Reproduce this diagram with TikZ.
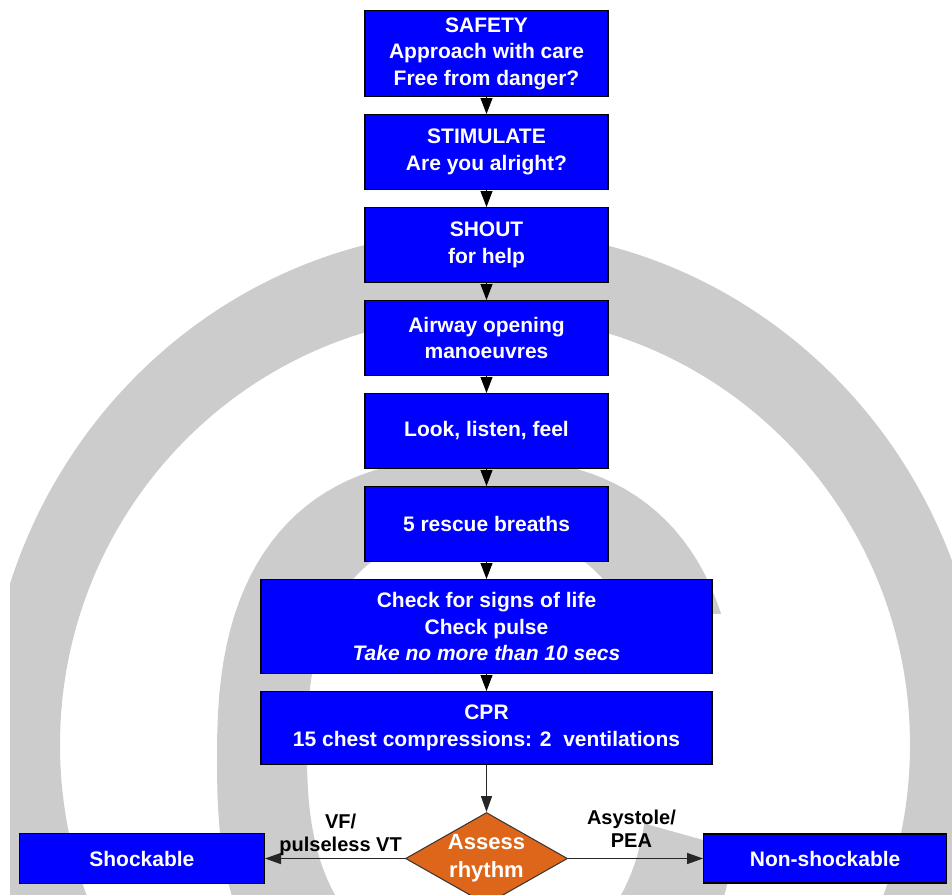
\documentclass[tikz,border=0pt]{standalone}
\usepackage{fontspec}
\setmainfont{Liberation Sans}
\usetikzlibrary{shapes.geometric,arrows.meta,chains,positioning}

\definecolor{boxblue}{RGB}{0,0,255}
\definecolor{rhythmorange}{RGB}{221,102,26}
\definecolor{ringgray}{RGB}{204,204,204}

\begin{document}
\begin{tikzpicture}[%
    x=1pt, y=-1pt,              % one unit per pixel, counted from the top
    >={Triangle[width=12pt,length=16pt]}, % Fat short arrows between boxes
    start chain=going below,    % General flow is top-to-bottom
    node distance=17pt,         % Gap between the boxes
    every join/.style={norm},   % Default linetype for connecting boxes
    ]
% -------------------------------------------------
% A few box styles
\tikzset{
  base/.style={draw=black, line width=1.2pt, fill=boxblue, text=white, align=center,
    inner sep=2pt, font=\fontsize{21pt}{26.5pt}\selectfont\bfseries},
  box/.style={base, on chain, minimum width=243pt, minimum height=74.8pt},
  widebox/.style={box, minimum width=451pt},
  outcome/.style={base, minimum width=245pt, minimum height=50pt},
  decision/.style={diamond, draw=black!80, line width=1pt, fill=rhythmorange,
    text=white, align=center, aspect=1.76, inner sep=0pt,
    minimum width=162pt, minimum height=92pt,
    font=\fontsize{22pt}{28pt}\selectfont\bfseries},
  % Connector line styles
  norm/.style={->, line width=1pt, black},
  side/.style={-{Triangle[width=11pt,length=16pt]}, line width=1.5pt, black!85},
  lbl/.style={above, inner sep=2pt, align=center, text=black,
    font=\fontsize{20pt}{23pt}\selectfont\bfseries}
}
\useasboundingbox (0,0) rectangle (952,894);
% -------------------------------------------------
% Grey rings in the background
\begin{scope}
  \clip (10,0) rectangle (952,894);
  \fill[ringgray, even odd rule]
    (485,745) ellipse [x radius=500pt, y radius=515pt]
    (485,745) ellipse [x radius=425pt, y radius=430pt];
  \fill[ringgray, even odd rule]
    plot[domain=0.5:360.5, samples=121]
      ({478+261*(cos(\x)<0 ? -1 : 1)*abs(cos(\x))^0.8},
       {760-302*(sin(\x)<0 ? -1 : 1)*abs(sin(\x))^0.8}) -- cycle
    plot[domain=0.5:360.5, samples=121]
      ({478+171*(cos(\x)<0 ? -1 : 1)*abs(cos(\x))^0.8},
       {750-218*(sin(\x)<0 ? -1 : 1)*abs(sin(\x))^0.8}) -- cycle;
  \fill[white] (713,614) -- (800,614) -- (800,867) -- (600,811)
    -- (600,700) -- cycle;
\end{scope}
% -------------------------------------------------
% Start by placing the nodes
\node [box, minimum height=85.8pt, at={(486.5,53.5)}] (safety)
  {SAFETY\\Approach with care\\Free from danger?};
% Use join to connect a node to the previous one
\node [box, join] (stimulate) {STIMULATE\\Are you alright?};
\node [box, join] (shout) {SHOUT\\for help};
\node [box, join] (airway) {Airway opening\\manoeuvres};
\node [box, join] (look) {Look, listen, feel};
\node [box, join] (breaths) {5 rescue breaths};
\node [widebox, minimum height=93.8pt, join] (check)
  {Check for signs of life\\Check pulse\\\textit{Take no more than 10 secs}};
\node [widebox, minimum height=72.8pt, join] (cpr)
  {CPR\\15 chest compressions: 2~ ventilations};

\node [decision, below=47pt of cpr] (rhythm) {Assess\\rhythm};
\node [outcome, left=140pt of rhythm] (shock) {Shockable};
\node [outcome, right=135pt of rhythm, minimum width=243pt, minimum height=49pt] (noshock) {Non-shockable};

\draw[side] (cpr) -- (rhythm);
\draw[side] (rhythm) -- node[lbl, pos=0.46] {VF/\\pulseless VT} (shock);
\draw[side] (rhythm) -- node[lbl, pos=0.47, yshift=8pt] {Asystole/\\PEA} (noshock);
% -------------------------------------------------
\end{tikzpicture}
\end{document}
